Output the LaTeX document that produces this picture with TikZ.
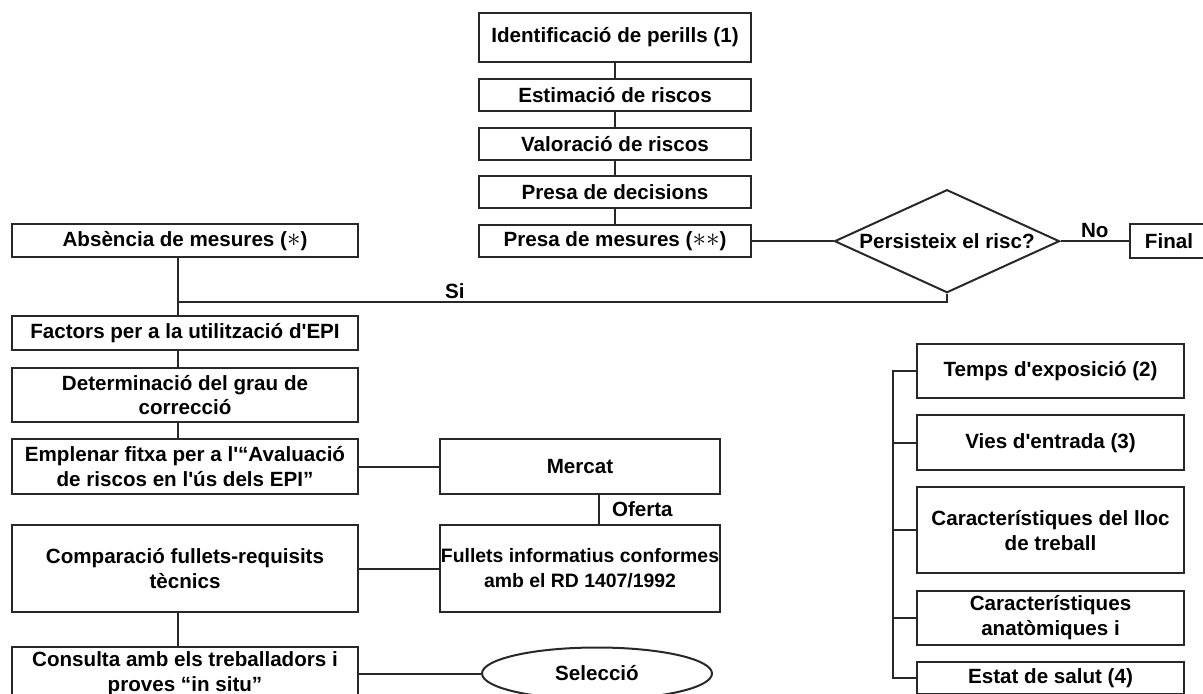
\documentclass[tikz,border=0pt]{standalone}
\usepackage{fontspec}
\usepackage{graphicx}
\usepackage{tikz}
\usetikzlibrary{positioning,chains,shapes,calc}
\newfontfamily\diafont{Liberation Sans}
\definecolor{myline}{RGB}{40,40,40}
\newcommand{\stararg}{\scalebox{1.35}{$\ast$}}

\begin{document}
\begin{tikzpicture}[x=0.5pt,y=-0.5pt,line width=1pt,myline,
        every node/.style={text=black,font=\diafont\bfseries\fontsize{10.3}{12.4}\selectfont},
        box/.style={draw,rectangle,align=center,inner sep=0pt},
        topbox/.style={box,minimum width=136pt,minimum height=16pt},
        leftbox/.style={box,minimum width=173pt},
        midbox/.style={box,minimum width=140pt},
        rightbox/.style={box,minimum width=133.5pt},
        question/.style={draw,diamond,inner sep=0pt,minimum width=112.5pt,minimum height=51.5pt},
        choice/.style={draw,ellipse,inner sep=0pt,minimum width=115pt,minimum height=26pt}
      ]
      \clip (0,0) rectangle (1203,694);

      % the evaluation steps
      \begin{scope}[start chain=going below,node distance=7.4pt]
        \node[topbox,on chain,minimum height=24.5pt] (ident) at (615,37.5) {Identificació de perills (1)};
        \node[topbox,on chain] (estim) {Estimació de riscos};
        \node[topbox,on chain] (valor) {Valoració de riscos};
        \node[topbox,on chain] (decis) {Presa de decisions};
        \node[topbox,on chain] (mesur) {Presa de mesures (\stararg\stararg)};
      \end{scope}

      % the question
      \node[question,label=center:{Persisteix el risc?}] (risc) at (mesur -| 947,0) {};
      \node[box,minimum width=39pt,minimum height=17pt] (final) at (mesur -| 1169,0) {Final};

      % the left column
      \node[leftbox,minimum height=16.5pt] (absen) at (185,241) {Absència de mesures (\stararg)};
      \node[leftbox,minimum height=17pt] (factr) at (185,333) {Factors per a la utilització d'EPI};
      \node[leftbox,minimum height=27pt] (deter) at (185,395) {Determinació del grau de\\correcció};
      \node[leftbox,minimum height=27.5pt] (emple) at (185,466.5) {Emplenar fitxa per a l'“Avaluació\\de riscos en l'ús dels EPI”};
      \node[leftbox,minimum height=43.5pt] (compa) at (185,568.5) {Comparació fullets-requisits\\tècnics};
      \node[leftbox,minimum height=27pt] (consu) at (185,673.5) {Consulta amb els treballadors i\\proves “in situ”};
      \coordinate (spine) at (178,302);

      % the market
      \node[midbox,minimum height=27.5pt] (mercat) at (580,466.5) {Mercat};
      \node[midbox,minimum height=43.5pt,font=\diafont\bfseries\fontsize{9.7}{12.4}\selectfont] (fulle) at (580,568.5) {Fullets informatius conformes\\amb el RD 1407/1992};
      \node[choice] (selec) at (597,673.5) {Selecció};

      % the factors
      \begin{scope}[start chain=going below,node distance=7.6pt]
        \node[rightbox,on chain,minimum height=27pt] (temps) at (1050.5,371) {Temps d'exposició (2)};
        \node[rightbox,on chain,minimum height=27.5pt] (vies) {Vies d'entrada (3)};
        \node[rightbox,on chain,minimum height=43pt] (lloc) {Característiques del lloc\\de treball};
        \node[rightbox,on chain,minimum height=27pt] (anat) {Característiques\\anatòmiques i};
        \node[rightbox,on chain,minimum height=16pt] (estat) {Estat de salut (4)};
      \end{scope}
      \coordinate (brk) at (893,371);

      % the edges
      \foreach \a/\b in {ident/estim,estim/valor,valor/decis,decis/mesur}
        \draw (\a) -- (\b);
      \draw (mesur.east) -- (risc.west);
      \draw (risc.east) -- (final.west) node[midway,above,inner sep=1pt] {No};
      \draw (risc.south) |- (spine) node[pos=0.82,above,inner sep=1pt] {Si};
      \draw (absen.south -| spine) -- (factr.north -| spine);
      \draw (factr.south -| spine) -- (deter.north -| spine);
      \draw (deter.south -| spine) -- (emple.north -| spine);
      \draw (compa.south -| spine) -- (consu.north -| spine);
      \draw (emple.east) -- (mercat.west);
      \draw (compa.east) -- (fulle.west);
      \draw (consu.east) -- (selec.west);
      \draw ([xshift=9.5pt]mercat.south) -- ([xshift=9.5pt]fulle.north)
        node[midway,right,inner xsep=6pt] {Oferta};
      \draw (temps.west) -- (temps.west -| brk) -- (estat.west -| brk) -- (estat.west);
      \foreach \n in {vies,lloc,anat}
        \draw (\n.west) -- (\n.west -| brk);
 \end{tikzpicture}
\end{document}
